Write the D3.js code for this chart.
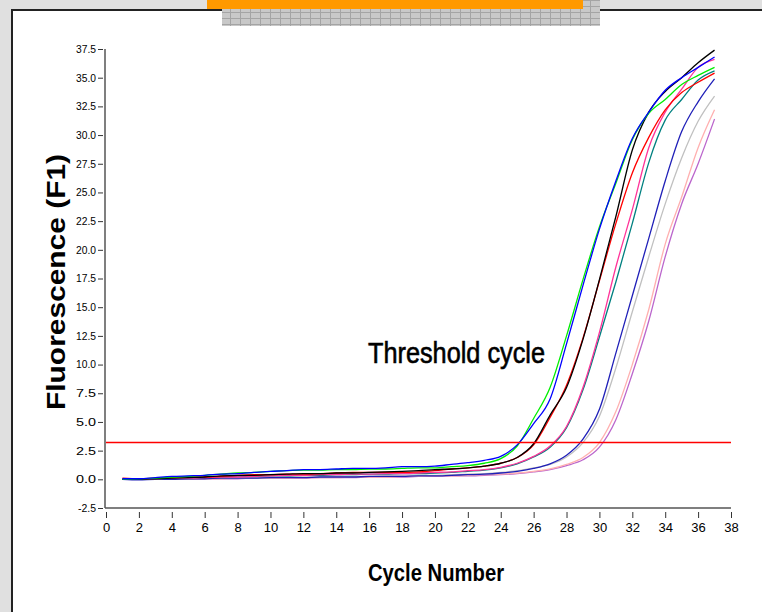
<!DOCTYPE html>
<html>
<head>
<meta charset="utf-8">
<script src="https://cdn.jsdelivr.net/npm/d3@7"></script>
<style>
  body { margin: 0; background: #e0e0e0; }
  svg { display: block; }
</style>
</head>
<body>
<div id="chart"></div>
<script>
// cycles 1..37
var cycles = d3.range(1, 38);

var xTicks = d3.range(0, 39, 2);
var yTicks = [-2.5, 0, 2.5, 5, 7.5, 10, 12.5, 15, 17.5, 20, 22.5, 25, 27.5, 30, 32.5, 35, 37.5];

var threshold = 3.2;

var blueRun   = [0.05,0.05,0.15,0.25,0.3,0.35,0.45,0.5,0.6,0.7,0.75,0.85,0.85,0.9,0.95,0.95,1.0,1.1,1.1,1.15,1.3,1.45,1.65,2.0,3.0,4.85,7.0,11.8,16.9,21.8,26.0,29.7,32.0,33.9,35.0,35.9,36.8];
var greenRun  = [0.0,0.05,0.1,0.2,0.25,0.35,0.45,0.55,0.6,0.7,0.75,0.8,0.8,0.85,0.85,0.9,0.9,0.95,1.0,1.0,1.1,1.2,1.4,1.8,2.9,5.3,8.0,12.5,17.4,22.0,25.8,29.6,31.9,33.1,34.4,35.2,35.9];
var blackRun  = [0.0,0.0,0.05,0.1,0.15,0.2,0.3,0.35,0.35,0.4,0.45,0.5,0.5,0.55,0.55,0.6,0.65,0.7,0.75,0.85,0.9,1.0,1.15,1.4,1.9,3.1,5.6,8.0,12.2,17.4,22.9,28.7,32.0,33.8,35.0,36.3,37.4];
var redRun    = [0.1,0.05,0.1,0.15,0.2,0.2,0.25,0.35,0.4,0.4,0.45,0.45,0.5,0.55,0.6,0.6,0.6,0.6,0.65,0.75,0.9,1.0,1.15,1.4,1.9,3.0,5.4,8.2,12.3,17.3,22.3,26.7,29.8,32.2,33.7,34.6,35.4];
var pinkRun   = [0.0,0.0,0.05,0.1,0.1,0.15,0.2,0.2,0.25,0.3,0.35,0.35,0.4,0.4,0.45,0.45,0.5,0.5,0.55,0.6,0.65,0.75,0.85,1.05,1.4,2.0,2.9,4.6,8.0,12.8,18.5,23.5,28.9,32.0,34.0,35.9,36.6];
var tealRun   = [0.0,0.0,0.05,0.1,0.1,0.15,0.2,0.25,0.25,0.3,0.3,0.35,0.35,0.4,0.4,0.45,0.45,0.5,0.5,0.55,0.6,0.7,0.8,1.0,1.35,1.95,2.8,4.5,7.8,12.4,17.2,22.3,27.6,31.3,33.1,34.8,35.6];
var navyRun   = [0.0,-0.05,0.0,0.0,0.05,0.05,0.1,0.1,0.1,0.15,0.15,0.15,0.2,0.2,0.2,0.25,0.25,0.25,0.3,0.3,0.35,0.4,0.45,0.55,0.7,0.95,1.35,2.1,3.5,6.1,11.0,16.0,21.0,26.0,30.3,32.9,34.9];
var grayRun   = [0.0,0.0,0.0,0.05,0.05,0.1,0.1,0.1,0.15,0.15,0.2,0.2,0.2,0.25,0.25,0.25,0.3,0.3,0.35,0.35,0.4,0.45,0.5,0.6,0.75,1.0,1.3,1.95,3.2,5.5,9.7,14.6,19.4,24.0,28.0,31.2,33.4];
var salmonRun = [0.0,0.0,0.0,0.0,0.05,0.05,0.05,0.1,0.1,0.1,0.1,0.15,0.15,0.15,0.2,0.2,0.2,0.25,0.25,0.3,0.3,0.35,0.4,0.45,0.55,0.7,0.9,1.3,1.9,3.2,5.9,10.0,14.8,20.5,24.6,28.9,32.2];
var purpleRun = [0.0,0.0,0.0,0.0,0.0,0.05,0.05,0.05,0.1,0.1,0.1,0.1,0.15,0.15,0.15,0.2,0.2,0.2,0.25,0.25,0.3,0.3,0.35,0.4,0.5,0.65,0.85,1.2,1.7,2.8,5.2,9.2,13.8,19.4,24.0,27.5,31.4];

var runs   = [purpleRun, salmonRun, grayRun, navyRun, tealRun, pinkRun, redRun, blackRun, greenRun, blueRun];
var colors = ["#bb66cc", "#ffb0b0", "#c0c0c0", "#2020b8", "#008080", "#ff3399", "#ff0000", "#000000", "#00ee00", "#0000ff"];

var W = 762, H = 612;
var svg = d3.select("#chart").append("svg").attr("width", W).attr("height", H);

// white panel
svg.append("rect").attr("x", 12).attr("y", 10).attr("width", W).attr("height", H)
  .attr("fill", "#fff").attr("stroke", "#222").attr("stroke-width", 2);

// grey grid bar + orange tab at the top
var pat = svg.append("defs").append("pattern").attr("id", "grid")
  .attr("patternUnits", "userSpaceOnUse").attr("width", 10).attr("height", 6);
pat.append("rect").attr("width", 10).attr("height", 6).attr("fill", "#c8c8c8");
pat.append("path").attr("d", "M0,0.5H10M0.5,0V6").attr("stroke", "#a4a4a4").attr("stroke-width", 1);
svg.append("rect").attr("x", 222).attr("y", 0).attr("width", 378).attr("height", 26).attr("fill", "url(#grid)");
svg.append("rect").attr("x", 207).attr("y", 0).attr("width", 376).attr("height", 9).attr("fill", "#ff9900");

var x = d3.scaleLinear().domain([0, 38]).range([106, 731]);
var y = d3.scaleLinear().domain([-2.5, 37.5]).range([508, 49]);

// axes
var yAxis = svg.append("g").attr("transform", "translate(103,0)")
  .call(d3.axisLeft(y).tickValues(yTicks).tickSize(5).tickPadding(2)
    .tickFormat(function(d) { return d.toFixed(1); }));
yAxis.select(".domain").remove();
yAxis.selectAll("line").attr("stroke", "#333");
yAxis.selectAll("text").attr("font-family", "Liberation Sans, Arial, sans-serif").attr("font-size", "10.5px")
  .attr("fill", "#000").attr("textLength", function(d) { return d < 0 ? 18 : 20; }).attr("lengthAdjust", "spacingAndGlyphs");

var xAxis = svg.append("g").attr("transform", "translate(0,512)")
  .call(d3.axisBottom(x).tickValues(xTicks).tickSize(6).tickPadding(5));
xAxis.select(".domain").remove();
xAxis.selectAll("line").attr("stroke", "#333");
xAxis.selectAll("text").attr("font-family", "Liberation Sans Narrow, Arial Narrow, sans-serif").attr("font-size", "13px").attr("fill", "#000");

svg.append("line").attr("x1", 105).attr("x2", 105).attr("y1", y(37.5)).attr("y2", y(-2.5))
  .attr("stroke", "#555").attr("stroke-width", 1.5);
svg.append("line").attr("x1", 105).attr("x2", x(38)).attr("y1", y(-2.5)).attr("y2", y(-2.5))
  .attr("stroke", "#555").attr("stroke-width", 1.5);

// amplification curves
var line = d3.line().curve(d3.curveMonotoneX)
  .x(function(d, i) { return x(cycles[i]); }).y(function(d) { return y(d); });
svg.append("g").selectAll("path").data(runs).enter().append("path")
  .attr("d", line).attr("fill", "none")
  .attr("stroke", function(d, i) { return colors[i]; })
  .attr("stroke-width", 1.3);

// threshold
svg.append("line").attr("x1", x(0)).attr("x2", x(38)).attr("y1", y(threshold)).attr("y2", y(threshold))
  .attr("stroke", "#ff0000").attr("stroke-width", 1.5);

svg.append("text").attr("x", 368).attr("y", 363).text("Threshold cycle")
  .attr("font-family", "Liberation Sans Narrow, Arial Narrow, sans-serif").attr("font-size", "29px")
  .attr("stroke", "#000").attr("stroke-width", 0.6)
  .attr("textLength", 177).attr("lengthAdjust", "spacingAndGlyphs");

svg.append("text").attr("x", 436).attr("y", 581).attr("text-anchor", "middle").text("Cycle Number")
  .attr("font-family", "Liberation Sans Narrow, Arial Narrow, sans-serif").attr("font-weight", "bold")
  .attr("font-size", "24px").attr("textLength", 136).attr("lengthAdjust", "spacingAndGlyphs");

svg.append("text").attr("transform", "translate(65,282) rotate(-90)").attr("text-anchor", "middle")
  .text("Fluorescence (F1)")
  .attr("font-family", "Liberation Sans, Arial, sans-serif").attr("font-weight", "bold")
  .attr("font-size", "26px").attr("textLength", 256).attr("lengthAdjust", "spacingAndGlyphs");
</script>
</body>
</html>
